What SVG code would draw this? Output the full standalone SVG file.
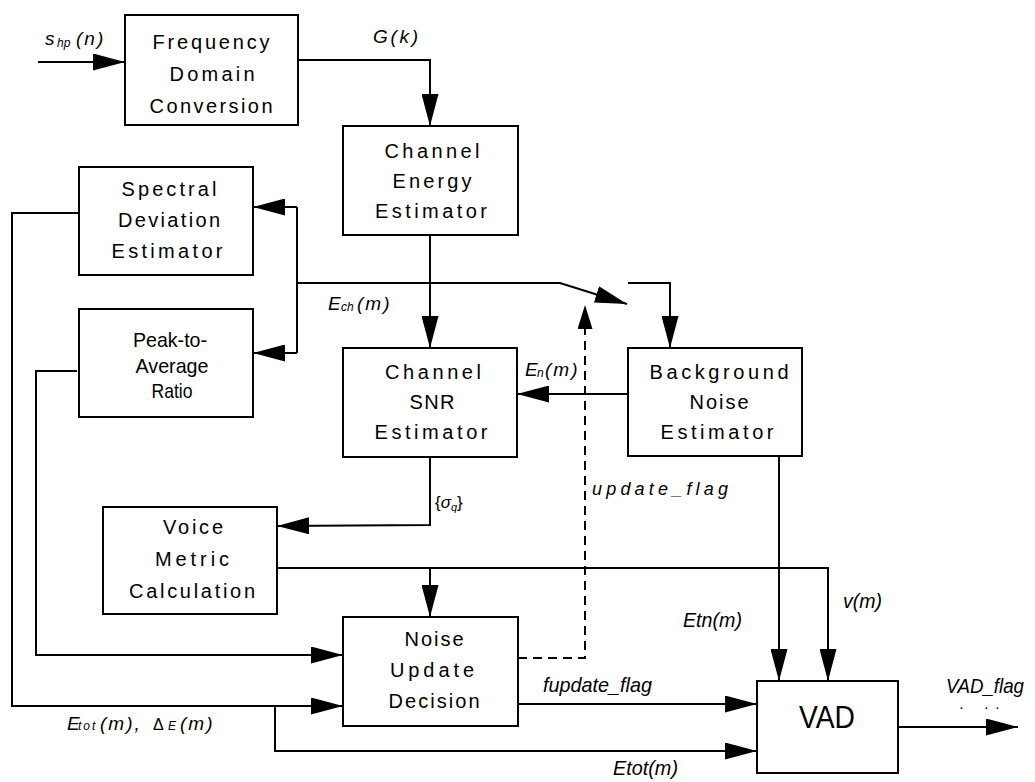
<svg xmlns="http://www.w3.org/2000/svg" width="1035" height="782" viewBox="0 0 1035 782">
<style>
.box{fill:#fff;stroke:#000;stroke-width:2}
.ln{fill:none;stroke:#000;stroke-width:2}
.dash{fill:none;stroke:#000;stroke-width:2;stroke-dasharray:9 6}
.t{font-family:"Liberation Sans",Arial,sans-serif;font-size:20px;fill:#000;text-anchor:middle}
.tn{font-family:"Liberation Sans",Arial,sans-serif;font-size:21px;fill:#000;text-anchor:middle}
.it{font-family:"Liberation Sans",Arial,sans-serif;font-style:italic;font-size:19px;fill:#000}
.itn{font-family:"Liberation Sans",Arial,sans-serif;font-style:italic;font-size:21px;fill:#000}
.sub{font-size:12px}
</style>
<defs>
<marker id="ah" markerUnits="userSpaceOnUse" markerWidth="32" markerHeight="17" refX="32" refY="8.5" orient="auto"><path d="M0,0 L32,8.5 L0,17 z" fill="#000"/></marker>
<marker id="ahs" markerUnits="userSpaceOnUse" markerWidth="24" markerHeight="15" refX="24" refY="7.5" orient="auto"><path d="M0,0 L24,7.5 L0,15 z" fill="#000"/></marker>
</defs>
<rect width="1035" height="782" fill="#fff"/>

<g id="connectors">
<path class="ln" d="M38,62 H125" marker-end="url(#ah)"/>
<path class="ln" d="M298,60 H430 V126" marker-end="url(#ah)"/>
<path class="ln" d="M430,235 V348" marker-end="url(#ah)"/>
<path class="ln" d="M297,283 H560 L627,304" marker-end="url(#ah)"/>
<path class="ln" d="M628,283 H670 V348" marker-end="url(#ah)"/>
<path class="ln" d="M628,394 H517" marker-end="url(#ah)"/>
<path class="ln" d="M297,207 V353"/>
<path class="ln" d="M297,207 H253" marker-end="url(#ah)"/>
<path class="ln" d="M297,353 H253" marker-end="url(#ah)"/>
<path class="ln" d="M79,213 H12 V706 H343" marker-end="url(#ah)"/>
<path class="ln" d="M77,371 H36 V655 H343" marker-end="url(#ah)"/>
<path class="ln" d="M275,706 V751 H757" marker-end="url(#ah)"/>
<path class="ln" d="M430,457 V525 L277,526" marker-end="url(#ah)"/>
<path class="ln" d="M277,568 H828 V681" marker-end="url(#ah)"/>
<path class="ln" d="M430,568 V617" marker-end="url(#ah)"/>
<path class="ln" d="M779,456 V681" marker-end="url(#ah)"/>
<path class="ln" d="M518,704 H757" marker-end="url(#ah)"/>
<path class="ln" d="M898,727 H1018" marker-end="url(#ah)"/>
<path class="dash" d="M518,658 H585 V305" marker-end="url(#ahs)"/>
</g>

<g id="n-freq">
<rect class="box" x="125" y="15" width="173" height="110"/>
<text class="t" x="211" y="49" textLength="117" lengthAdjust="spacing">Frequency</text>
<text class="t" x="212" y="81" textLength="85" lengthAdjust="spacing">Domain</text>
<text class="t" x="211" y="113" textLength="123" lengthAdjust="spacing">Conversion</text>
</g>

<g id="n-energy">
<rect class="box" x="343" y="126" width="175" height="109"/>
<text class="t" x="432" y="158" textLength="95" lengthAdjust="spacing">Channel</text>
<text class="t" x="432" y="188" textLength="79" lengthAdjust="spacing">Energy</text>
<text class="t" x="431" y="218" textLength="112" lengthAdjust="spacing">Estimator</text>
</g>

<g id="n-spectral">
<rect class="box" x="79" y="167" width="174" height="108"/>
<text class="t" x="169" y="196" textLength="95" lengthAdjust="spacing">Spectral</text>
<text class="t" x="169" y="227" textLength="102" lengthAdjust="spacing">Deviation</text>
<text class="t" x="167" y="258" textLength="111" lengthAdjust="spacing">Estimator</text>
</g>

<g id="n-peak">
<rect class="box" x="79" y="309" width="174" height="108"/>
<text class="tn" x="170" y="347" textLength="74" lengthAdjust="spacingAndGlyphs">Peak-to-</text>
<text class="tn" x="172" y="373" textLength="73" lengthAdjust="spacingAndGlyphs">Average</text>
<text class="tn" x="172" y="398" textLength="41" lengthAdjust="spacingAndGlyphs">Ratio</text>
</g>

<g id="n-snr">
<rect class="box" x="343" y="348" width="174" height="109"/>
<text class="t" x="433" y="379" textLength="96" lengthAdjust="spacing">Channel</text>
<text class="t" x="432" y="409" textLength="45" lengthAdjust="spacing">SNR</text>
<text class="t" x="431" y="439" textLength="113" lengthAdjust="spacing">Estimator</text>
</g>

<g id="n-background">
<rect class="box" x="628" y="348" width="174" height="108"/>
<text class="t" x="719" y="379" textLength="139" lengthAdjust="spacing">Background</text>
<text class="t" x="719" y="409" textLength="59" lengthAdjust="spacing">Noise</text>
<text class="t" x="717" y="439" textLength="113" lengthAdjust="spacing">Estimator</text>
</g>

<g id="n-voice">
<rect class="box" x="103" y="507" width="174" height="107"/>
<text class="t" x="193" y="534" textLength="60" lengthAdjust="spacing">Voice</text>
<text class="t" x="192" y="566" textLength="74" lengthAdjust="spacing">Metric</text>
<text class="t" x="192" y="598" textLength="126" lengthAdjust="spacing">Calculation</text>
</g>

<g id="n-noiseupdate">
<rect class="box" x="343" y="617" width="175" height="109"/>
<text class="t" x="434" y="646" textLength="59" lengthAdjust="spacing">Noise</text>
<text class="t" x="432" y="677" textLength="84" lengthAdjust="spacing">Update</text>
<text class="t" x="434" y="708" textLength="91" lengthAdjust="spacing">Decision</text>
</g>

<g id="n-vad">
<rect class="box" x="757" y="681" width="141" height="92"/>
<text class="tn" x="827" y="728" style="font-size:32px" textLength="56" lengthAdjust="spacingAndGlyphs">VAD</text>
</g>

<g id="labels">
<text class="it" x="45" y="45">s<tspan class="sub" x="57" dy="2">hp</tspan><tspan x="76" dy="-2" letter-spacing="2">(n)</tspan></text>
<text class="it" x="373" y="43" textLength="45" lengthAdjust="spacing">G(k)</text>
<text class="it" x="328" y="310">E<tspan class="sub" x="341" dy="1">ch</tspan><tspan x="357" dy="-1" letter-spacing="2">(m)</tspan></text>
<text class="it" x="525" y="376">E<tspan class="sub" x="537" dy="1">n</tspan><tspan x="545" dy="-1" letter-spacing="2">(m)</tspan></text>
<text class="it" x="592" y="495" style="font-size:18px" textLength="136" lengthAdjust="spacing">update_flag</text>
<text x="435" y="508" style="font-family:'Liberation Sans',Arial,sans-serif;font-size:17px">{<tspan font-style="italic">σ</tspan><tspan font-style="italic" font-size="11" dy="3">q</tspan><tspan dy="-3">}</tspan></text>
<text class="itn" x="683" y="627" textLength="59" lengthAdjust="spacingAndGlyphs">Etn(m)</text>
<text class="itn" x="843" y="608" textLength="39" lengthAdjust="spacingAndGlyphs">v(m)</text>
<text class="itn" x="543" y="692" textLength="109" lengthAdjust="spacingAndGlyphs">fupdate_flag</text>
<text class="itn" x="946" y="693" textLength="78" lengthAdjust="spacingAndGlyphs">VAD_flag</text>
<text style="font-family:'Liberation Sans',Arial,sans-serif;font-size:10px;font-weight:bold" y="709"><tspan x="960">.</tspan><tspan x="985">.</tspan><tspan x="996">.</tspan></text>
<text class="itn" x="613" y="775" textLength="65" lengthAdjust="spacingAndGlyphs">Etot(m)</text>
<text class="it" x="67" y="730">E<tspan class="sub" x="78" letter-spacing="2">tot</tspan><tspan x="100" letter-spacing="2">(m),</tspan><tspan x="153" font-style="normal" font-size="16">Δ</tspan><tspan class="sub" x="168">E</tspan><tspan x="180" letter-spacing="2">(m)</tspan></text>
</g>
</svg>
